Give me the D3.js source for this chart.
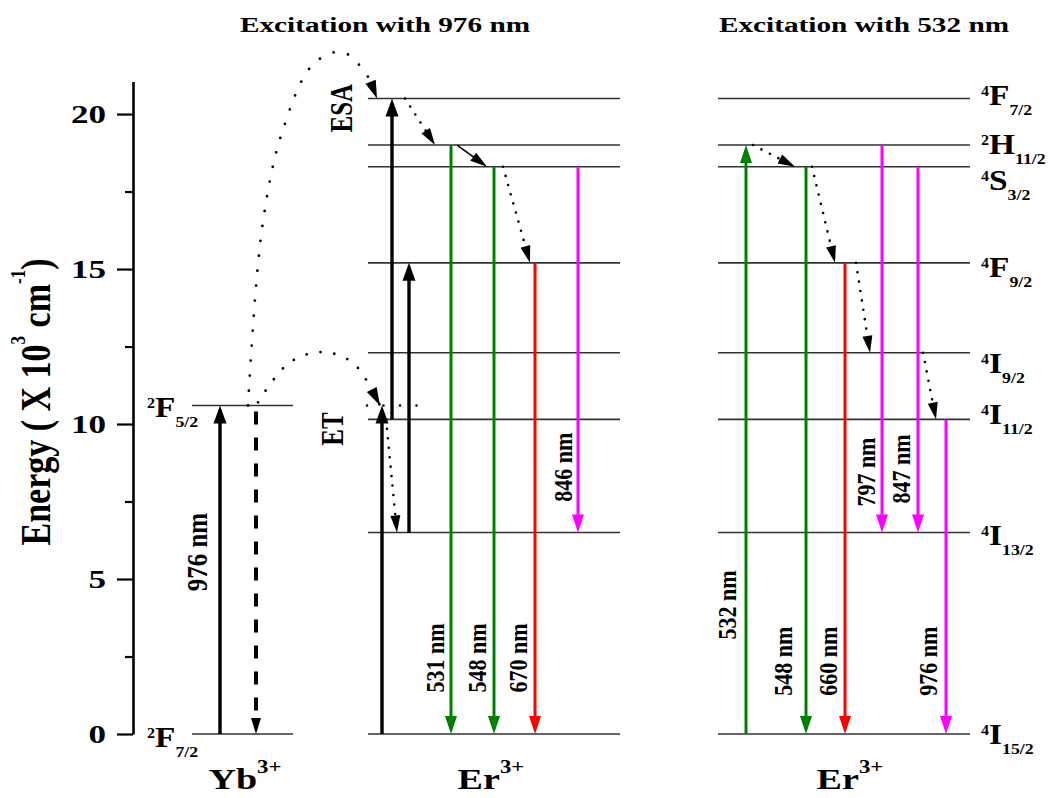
<!DOCTYPE html>
<html>
<head>
<meta charset="utf-8">
<title>Yb/Er energy level diagram</title>
<script src="https://cdn.jsdelivr.net/npm/d3@7"></script>
<style>
  html, body { margin: 0; padding: 0; background: #fff; }
  svg { display: block; font-family: "Liberation Serif", "Times New Roman", serif; font-weight: bold; }
</style>
</head>
<body>
<svg id="chart" width="1048" height="798"></svg>
<script>
// ---------------- data ----------------
// Energy levels, in 10^3 cm^-1
const ybLevelNames = ["2F7/2", "2F5/2"];
const ybLevelEnergies = [0, 10.6];
const erLevelNames = ["4I15/2", "4I13/2", "4I11/2", "4I9/2", "4F9/2", "4S3/2", "2H11/2", "4F7/2"];
const erLevelEnergies = [0, 6.5, 10.15, 12.3, 15.2, 18.3, 19.0, 20.5];

const energyTicks = [0, 5, 10, 15, 20];
const energyMinorTicks = [2.5, 7.5, 12.5, 17.5];

const panelNames = ["Yb", "Er976", "Er532"];
const panelTitles = ["", "Excitation with 976 nm", "Excitation with 532 nm"];
const ionNames = ["Yb", "Er", "Er"];
const ionCharge = "3+";

// Pump and emission transitions
const transitions = [
  { panel: "Yb",    from: "2F7/2",  to: "2F5/2",  kind: "pump",     label: "976 nm" },
  { panel: "Yb",    from: "2F5/2",  to: "2F7/2",  kind: "transfer", label: "" },
  { panel: "Er976", from: "4I15/2", to: "2F5/2",  kind: "pump",     label: "" },
  { panel: "Er976", from: "4I11/2", to: "4F7/2",  kind: "pump",     label: "" },
  { panel: "Er976", from: "4I13/2", to: "4F9/2",  kind: "pump",     label: "" },
  { panel: "Er976", from: "2H11/2", to: "4I15/2", kind: "green",    label: "531 nm" },
  { panel: "Er976", from: "4S3/2",  to: "4I15/2", kind: "green",    label: "548 nm" },
  { panel: "Er976", from: "4F9/2",  to: "4I15/2", kind: "red",      label: "670 nm" },
  { panel: "Er976", from: "4S3/2",  to: "4I13/2", kind: "nir",      label: "846 nm" },
  { panel: "Er532", from: "4I15/2", to: "2H11/2", kind: "green",    label: "532 nm" },
  { panel: "Er532", from: "4S3/2",  to: "4I15/2", kind: "green",    label: "548 nm" },
  { panel: "Er532", from: "4F9/2",  to: "4I15/2", kind: "red",      label: "660 nm" },
  { panel: "Er532", from: "2H11/2", to: "4I13/2", kind: "nir",      label: "797 nm" },
  { panel: "Er532", from: "4S3/2",  to: "4I13/2", kind: "nir",      label: "847 nm" },
  { panel: "Er532", from: "4I11/2", to: "4I15/2", kind: "nir",      label: "976 nm" }
];

// Non-radiative relaxations
const relaxations = [
  { panel: "Er976", from: "4I11/2", to: "4I13/2", kind: "dotted" },
  { panel: "Er976", from: "4F7/2",  to: "2H11/2", kind: "dotted" },
  { panel: "Er976", from: "2H11/2", to: "4S3/2",  kind: "solid" },
  { panel: "Er976", from: "4S3/2",  to: "4F9/2",  kind: "dotted" },
  { panel: "Er532", from: "2H11/2", to: "4S3/2",  kind: "dotted" },
  { panel: "Er532", from: "4S3/2",  to: "4F9/2",  kind: "dotted" },
  { panel: "Er532", from: "4F9/2",  to: "4I9/2",  kind: "dotted" },
  { panel: "Er532", from: "4I9/2",  to: "4I11/2", kind: "dotted" }
];

// Yb -> Er energy transfer (ET) and excited state absorption (ESA) paths: [slot, energy]
const etPath  = [[13.0, 10.7], [16.1, 11.97], [19.4, 12.32], [22.5, 11.97], [25.2, 10.6]];
const esaPath = [[12.0, 10.6], [13.4, 16.3], [15.4, 19.4], [18.5, 21.6], [21.4, 22.0], [23.9, 21.25], [24.9, 20.5]];
const transferNames = ["ET", "ESA"];

// ---------------- layout ----------------
const x = d3.scaleLinear().domain([0, 90]).range([128, 1028]);
const y = d3.scaleLinear().domain([0, 21.05]).range([734, 81.5]);

const axisSlot = 0.5;
const panelSpan = { Yb: [6.4, 16.5], Er976: [24.0, 49.2], Er532: [59.0, 84.2] };
const transitionSlot = [9.2, 12.8, 25.4, 26.4, 28.1, 32.3, 36.6, 40.7, 45.0, 61.8, 67.8, 71.7, 75.4, 79.0, 81.8];
const transitionLabelAt = [[6.9, 5.87], null, null, null, null,
  [30.7, 2.45], [34.9, 2.45], [39.0, 2.45], [43.5, 8.61],
  [59.9, 4.16], [65.5, 2.35], [70.0, 2.35], [73.8, 8.45], [77.3, 8.55], [80.0, 2.35]];
const relaxSlots = [[25.8, 26.9], [27.7, 30.7], [32.9, 35.9], [37.5, 40.2],
  [62.5, 66.7], [68.4, 70.7], [72.8, 74.2], [79.5, 80.8]];
const guideLine = { slots: [23.9, 29.0], level: "2F5/2" };
const transferLabelAt = [[20.4, 9.84], [21.3, 20.19]];
const ybLabelSlot = 1.9, ybLabelDy = [13, 12];
const erLabelSlot = 85.3, erLabelDy = [10, 12, 5, 20, 14, 23, 9, 6];
const titleSlot = [0, 25.7, 73.6], titleBaseline = 32;
const ionSlot = [11.7, 36.3, 72.2], ionBaseline = 789;

const kindStyle = {
  pump:     { color: "#000",    width: 3.4, head: 18, hw: 13 },
  transfer: { color: "#000",    width: 4,   head: 16, hw: 10, dash: "13 13", dashOffset: 20 },
  green:    { color: "#008000", width: 3,   head: 18, hw: 12 },
  red:      { color: "#ff0000", width: 3,   head: 18, hw: 12 },
  nir:      { color: "#ff00ff", width: 3,   head: 18, hw: 12 },
  dotted:   { color: "#000",    width: 2.6, head: 17, hw: 10, dash: "0 9.5", cap: "round" },
  solid:    { color: "#000",    width: 1.6, head: 17, hw: 10 }
};

// ---------------- helpers ----------------
const energyOf = {};
ybLevelNames.forEach((n, i) => energyOf[n] = ybLevelEnergies[i]);
erLevelNames.forEach((n, i) => energyOf[n] = erLevelEnergies[i]);

const svg = d3.select("#chart");

function stretched(parent, px, py, sx, rot) {
  return parent.append("g")
    .attr("transform", `translate(${px},${py}) scale(${sx},1)` + (rot ? ` rotate(${rot})` : ""));
}

function drawArrow(g, x1, y1, x2, y2, st) {
  const dx = x2 - x1, dy = y2 - y1, L = Math.hypot(dx, dy);
  const ux = dx / L, uy = dy / L;
  const bx = x2 - ux * st.head, by = y2 - uy * st.head;
  const ln = g.append("line")
    .attr("x1", x1).attr("y1", y1)
    .attr("x2", bx + ux * 1.5).attr("y2", by + uy * 1.5)
    .attr("stroke", st.color).attr("stroke-width", st.width)
    .attr("stroke-linecap", st.cap || "butt");
  if (st.dash) ln.attr("stroke-dasharray", st.dash);
  if (st.dashOffset) ln.attr("stroke-dashoffset", st.dashOffset);
  const h = st.hw / 2;
  g.append("path")
    .attr("d", `M${x2},${y2}L${bx - uy * h},${by + ux * h}L${bx + uy * h},${by - ux * h}Z`)
    .attr("fill", st.color);
}

function drawCurveArrow(g, pts, spacing) {
  const gen = d3.line().x(d => x(d[0])).y(d => y(d[1])).curve(d3.curveCatmullRom.alpha(0.5));
  const p = g.append("path").attr("d", gen(pts))
    .attr("fill", "none").attr("stroke", "#000").attr("stroke-width", 2.8)
    .attr("stroke-linecap", "round").attr("stroke-dasharray", `0 ${spacing}`);
  const node = p.node(), L = node.getTotalLength();
  const tip = node.getPointAtLength(L), base = node.getPointAtLength(L - 18);
  const dx = tip.x - base.x, dy = tip.y - base.y, n = Math.hypot(dx, dy);
  const ux = dx / n, uy = dy / n, h = 5.5;
  g.append("path")
    .attr("d", `M${tip.x},${tip.y}L${base.x - uy * h},${base.y + ux * h}L${base.x + uy * h},${base.y - ux * h}Z`)
    .attr("fill", "#000");
}

function levelLabel(parent, name, px, py) {
  const t = stretched(parent, px, py, 1.15).append("text").attr("font-size", 29);
  t.append("tspan").attr("font-size", 14).attr("dy", -9).text(name[0]);
  t.append("tspan").attr("dy", 9).text(name[1]);
  t.append("tspan").attr("font-size", 15.5).attr("dy", 10).text(name.slice(2));
}

// ---------------- axis ----------------
const axisG = svg.append("g").attr("transform", `translate(${x(axisSlot)},0)`);
axisG.append("g")
  .call(d3.axisLeft(y).tickValues(energyMinorTicks).tickSize(8).tickSizeOuter(0).tickFormat(""))
  .call(g => g.select(".domain").remove())
  .call(g => g.selectAll("line").attr("stroke", "#000").attr("stroke-width", 2.2));
const major = axisG.append("g")
  .call(d3.axisLeft(y).tickValues(energyTicks).tickSize(16).tickSizeOuter(0).tickFormat(d3.format("d")))
  .attr("font-family", null).attr("font-size", null);
major.select(".domain").attr("stroke", "#000").attr("stroke-width", 2.6);
major.selectAll(".tick line").attr("stroke", "#000").attr("stroke-width", 2.2);
major.selectAll(".tick text")
  .attr("x", 0).attr("dy", "0.34em")
  .attr("transform", "translate(-27,0) scale(1.35,1)")
  .attr("font-size", 26).attr("fill", "#000");

// y-axis title
const yTitle = stretched(svg, 50, 402, 1.24, -90).append("text")
  .attr("text-anchor", "middle").attr("font-size", 34);
yTitle.append("tspan").text("Energy ( X 10");
yTitle.append("tspan").attr("font-size", 17).attr("dy", -20).text("3");
yTitle.append("tspan").attr("dy", 20).text(" cm");
yTitle.append("tspan").attr("font-size", 17).attr("dy", -20).text("-1");
yTitle.append("tspan").attr("dy", 20).text(")");

// ---------------- energy levels ----------------
const levelsG = svg.append("g").attr("stroke", "#333").attr("stroke-width", 1.6);
ybLevelEnergies.forEach(e => {
  levelsG.append("line").attr("x1", x(panelSpan.Yb[0])).attr("x2", x(panelSpan.Yb[1]))
    .attr("y1", y(e)).attr("y2", y(e));
});
["Er976", "Er532"].forEach(p => {
  erLevelEnergies.forEach(e => {
    levelsG.append("line").attr("x1", x(panelSpan[p][0])).attr("x2", x(panelSpan[p][1]))
      .attr("y1", y(e)).attr("y2", y(e));
  });
});

// level names
ybLevelNames.forEach((n, i) => levelLabel(svg, n, x(ybLabelSlot), y(ybLevelEnergies[i]) + ybLabelDy[i]));
erLevelNames.forEach((n, i) => levelLabel(svg, n, x(erLabelSlot), y(erLevelEnergies[i]) + erLabelDy[i]));

// dotted continuation of the Yb 2F5/2 level into the Er panel
svg.append("line")
  .attr("x1", x(guideLine.slots[0])).attr("x2", x(guideLine.slots[1]))
  .attr("y1", y(energyOf[guideLine.level])).attr("y2", y(energyOf[guideLine.level]))
  .attr("stroke", "#000").attr("stroke-width", 2.6)
  .attr("stroke-linecap", "round").attr("stroke-dasharray", "0 16.5");

// ---------------- transitions ----------------
const arrowsG = svg.append("g");
transitions.forEach((t, i) => {
  const xs = x(transitionSlot[i]);
  drawArrow(arrowsG, xs, y(energyOf[t.from]), xs, y(energyOf[t.to]), kindStyle[t.kind]);
  if (t.label && transitionLabelAt[i]) {
    const [s, e] = transitionLabelAt[i];
    stretched(svg, x(s), y(e), 1.18, -90).append("text")
      .attr("text-anchor", "middle").attr("dy", "0.35em")
      .attr("font-size", t.panel === "Yb" ? 25 : 22)
      .text(t.label);
  }
});

relaxations.forEach((r, i) => {
  const [s0, s1] = relaxSlots[i];
  drawArrow(arrowsG, x(s0), y(energyOf[r.from]), x(s1), y(energyOf[r.to]), kindStyle[r.kind]);
});

// energy transfer curves
drawCurveArrow(arrowsG, etPath, 14);
drawCurveArrow(arrowsG, esaPath, 15);
transferNames.forEach((n, i) => {
  const [s, e] = transferLabelAt[i];
  stretched(svg, x(s), y(e), 1.25, -90).append("text")
    .attr("text-anchor", "middle").attr("dy", "0.35em").attr("font-size", 25).text(n);
});

// ---------------- titles and ion names ----------------
panelNames.forEach((p, i) => {
  if (panelTitles[i]) {
    stretched(svg, x(titleSlot[i]), titleBaseline, 1.33).append("text")
      .attr("text-anchor", "middle").attr("font-size", 22).text(panelTitles[i]);
  }
  const t = stretched(svg, x(ionSlot[i]), ionBaseline, 1.27).append("text")
    .attr("text-anchor", "middle").attr("font-size", 30);
  t.append("tspan").text(ionNames[i]);
  t.append("tspan").attr("font-size", 18).attr("dy", -16).text(ionCharge);
});
</script>
</body>
</html>
